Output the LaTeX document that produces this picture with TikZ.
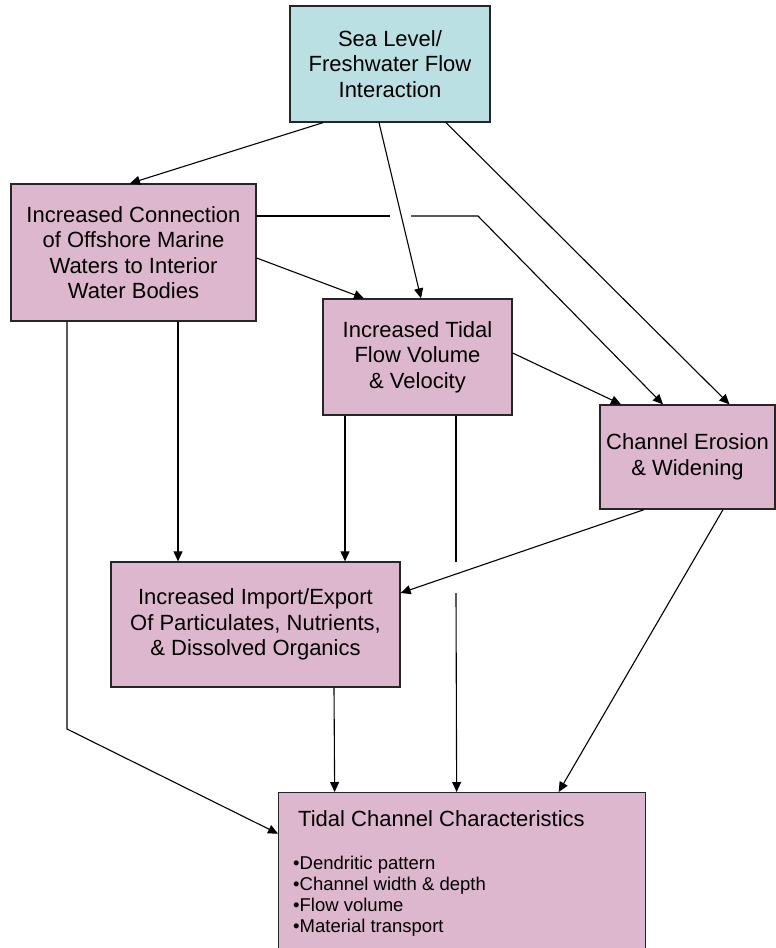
\documentclass[tikz,border=0pt]{standalone}
\usepackage{fontspec}
\setmainfont{Liberation Sans}
\usetikzlibrary{arrows.meta}
\definecolor{boxpink}{RGB}{221,183,205}
\definecolor{boxcyan}{RGB}{187,224,227}

\begin{document}
\begin{tikzpicture}[x=1pt, y=-1pt, >={Triangle[length=10pt,width=9pt]},
    box/.style={draw=black!85, line width=1.3pt, fill=boxpink, align=center,
        inner sep=0pt, font=\fontsize{22}{25.5}\selectfont},
    link/.style={line width=1.1pt}]
    \useasboundingbox (0,0) rectangle (776,948);
    \node[box, fill=boxcyan, minimum width=200pt, minimum height=116pt] (sea) at (390,64)
        {Sea Level/\\Freshwater Flow\\Interaction};
    \node[box, minimum width=245pt, minimum height=137pt] (conn) at (133.5,252.5)
        {Increased Connection\\of Offshore Marine\\Waters to Interior\\Water Bodies};
    \node[box, minimum width=189pt, minimum height=116pt] (tidal) at (417.5,357)
        {Increased Tidal\\Flow Volume\\\& Velocity};
    \node[box, minimum width=175pt, minimum height=104pt] (chan) at (687.5,457)
        {Channel Erosion\\\& Widening};
    \node[box, minimum width=289pt, minimum height=125pt] (imp) at (255.5,624.5)
        {Increased Import/Export\\Of Particulates, Nutrients,\\\& Dissolved Organics};
    \node[box, minimum width=367pt, minimum height=160pt, anchor=north west] (char) at (278,792) {};
    \node[anchor=base west, inner sep=0pt, font=\fontsize{22}{25.5}\selectfont] (chartitle)
        at (298,826) {Tidal Channel Characteristics};
    \node[anchor=north west, align=left, inner sep=0pt, font=\fontsize{18.5}{21}\selectfont] (charlist)
        at (293,856) {•Dendritic pattern\\•Channel width \& depth\\•Flow volume\\•Material transport};

    \coordinate (gapa) at (390,216);
    \coordinate (gapb) at (411,216);
    \coordinate (bend) at (478,216);
    \coordinate (gapc) at (456,562);
    \coordinate (gapd) at (456,593);
    \coordinate (knee) at (67,729);

    \draw[link, ->] ([xshift=-67pt]sea.south) -- ([xshift=-3.5pt]conn.north);
    \draw[link, ->] ([xshift=-11pt]sea.south) -- ([xshift=3.5pt]tidal.north);
    \draw[link, ->] ([xshift=56pt]sea.south) -- ([xshift=42pt]chan.north);
    \draw[link, ->] ([yshift=-5.5pt]conn.east) -- ([xshift=-53.5pt]tidal.north);
    \draw[link] ([yshift=36.5pt]conn.east) -- (gapa);
    \draw[link, ->] (gapb) -- (bend) -- ([xshift=-24.5pt]chan.north);
    \draw[link, ->] ([yshift=4pt]tidal.east) -- ([xshift=-66.5pt]chan.north);
    \draw[link, ->] ([xshift=44.5pt]conn.south) -- ([xshift=-77.5pt]imp.north);
    \draw[link, ->] ([xshift=-72.5pt]tidal.south) -- ([xshift=89.5pt]imp.north);
    \draw[link] ([xshift=38.5pt]tidal.south) -- (gapc);
    \draw[link, ->] (gapd) -- ([xshift=-5.5pt]char.north);
    \draw[link, ->] ([xshift=-43.5pt]chan.south) -- ([yshift=31.5pt]imp.east);
    \draw[link, ->] ([xshift=35.5pt]chan.south) -- ([xshift=96.5pt]char.north);
    \draw[link, ->] ([xshift=78.5pt]imp.south) -- ([xshift=-127.5pt]char.north);
    \draw[link, ->] ([xshift=-66.5pt]conn.south) -- (knee) -- ([yshift=39pt]char.west);
\end{tikzpicture}
\end{document}
